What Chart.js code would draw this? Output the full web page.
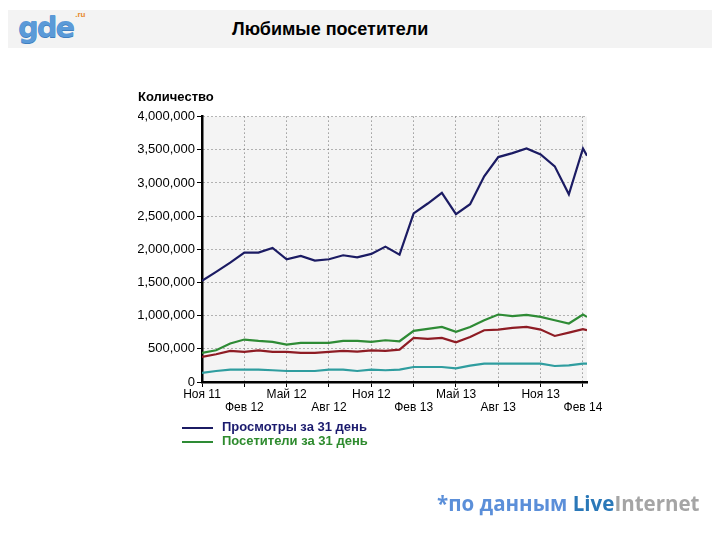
<!DOCTYPE html>
<html>
<head>
<meta charset="utf-8">
<script src="https://cdn.jsdelivr.net/npm/chart.js@4/dist/chart.umd.min.js"></script>
<style>
    body { margin: 0; width: 720px; height: 540px; background: #fff; position: relative; overflow: hidden;
           font-family: "Liberation Sans", Arial, sans-serif; }
    #header { position: absolute; left: 8px; top: 10px; width: 704px; height: 38px; background: #f3f3f3; }
    #logo { position: absolute; left: 10px; top: 0px; font: bold 29px "DejaVu Sans", sans-serif;
            color: #5b9ad8; letter-spacing: -2px; text-shadow: 0 1px 0 #3f7fc0; }
    #logo sup { font: bold 8px "Liberation Sans", Arial, sans-serif; color: #e8892c; position: relative; top: -9px;
                letter-spacing: 0; text-shadow: none; margin-left: 2px; }
    #title { position: absolute; left: 224px; top: 9px; font: bold 18px "Liberation Sans", Arial, sans-serif; color: #000; }
    #chart { position: absolute; left: 0; top: 0; }
    #legend { position: absolute; left: 182px; top: 420px; font: bold 13px "Liberation Sans", Arial, sans-serif; }
    .item { height: 14px; line-height: 14px; white-space: nowrap; }
    .item i { display: inline-block; width: 31px; height: 2px; vertical-align: middle; margin-right: 9px; }
    #source { position: absolute; left: 437px; top: 489px; font: bold 20.5px "Open Sans", "DejaVu Sans", sans-serif;
              white-space: nowrap; }
</style>
</head>
<body>
<div id="header">
    <div id="logo">gde<sup>.ru</sup></div>
    <div id="title">Любимые посетители</div>
</div>
<canvas id="chart" width="720" height="540"></canvas>
<div id="legend"></div>
<div id="source"><span style="color:#5b8fd9">*по данным </span><span style="color:#2a78b8">Live</span><span style="color:#a5a5a5">Internet</span></div>

<script>
// ── Data ─────────────────────────────────────────────────
const pointDates = [
    '2011-11-01','2011-12-01','2012-01-01','2012-02-01','2012-03-01','2012-04-01',
    '2012-05-01','2012-06-01','2012-07-01','2012-08-01','2012-09-01','2012-10-01',
    '2012-11-01','2012-12-01','2013-01-01','2013-02-01','2013-03-01','2013-04-01',
    '2013-05-01','2013-06-01','2013-07-01','2013-08-01','2013-09-01','2013-10-01',
    '2013-11-01','2013-12-01','2014-01-01','2014-02-01','2014-02-09'
];
const tickDates  = ['2011-11-01','2012-02-01','2012-05-01','2012-08-01','2012-11-01',
                    '2013-02-01','2013-05-01','2013-08-01','2013-11-01','2014-02-01'];
const tickLabels = ['Ноя 11','Фев 12','Май 12','Авг 12','Ноя 12',
                    'Фев 13','Май 13','Авг 13','Ноя 13','Фев 14'];

// thousands
const views    = [1525,1660,1800,1950,1950,2020,1850,1900,1830,1850,1910,1880,1930,2040,1920,
                  2540,2690,2850,2530,2680,3100,3390,3450,3520,3430,3250,2830,3520,3410];
const visitors = [438,478,580,640,619,604,564,589,589,589,619,619,604,629,614,
                  770,800,830,755,830,931,1017,992,1011,981,931,881,1017,981];
const redLine  = [377,418,468,453,478,453,453,438,438,453,468,458,478,468,488,
                  664,649,664,598,679,780,790,815,830,790,694,745,795,780];
const tealLine = [136,166,187,187,187,177,166,166,166,187,187,166,187,177,187,
                  226,226,226,206,247,277,277,277,277,277,241,252,277,277];

const seriesNames  = ['Просмотры за 31 день', 'Посетители за 31 день', '', ''];
const seriesColors = ['#1b1b63', '#2e8b35', '#8e1c24', '#2f9d9f'];
const legendColors = ['#1b1b6e', '#2e8b2e'];

// months since Ноя 11
function monthOffset(d) {
    const [y, m, day] = d.split('-').map(Number);
    const dim = new Date(y, m, 0).getDate();
    return (y - 2011) * 12 + (m - 11) + (day - 1) / dim;
}
const xs = pointDates.map(monthOffset);
const tickValues = tickDates.map(monthOffset);

const toPoints = arr => arr.map((v, i) => ({ x: xs[i], y: v * 1000 }));

// ── Legend (HTML) ────────────────────────────────────────
document.getElementById('legend').innerHTML = [0, 1].map(i =>
    `<div class="item" style="color:${legendColors[i]}"><i style="background:${seriesColors[i]}"></i>${seriesNames[i]}</div>`
).join('');

// ── Chart ────────────────────────────────────────────────
const plotBg = {
    id: 'plotBg',
    beforeDraw(chart) {
        const { ctx, chartArea: a } = chart;
        ctx.save();
        ctx.fillStyle = '#f4f4f4';
        ctx.fillRect(a.left, a.top, a.right - a.left, a.bottom - a.top);
        ctx.restore();
    }
};

const font = { family: '"Liberation Sans", Arial, sans-serif', size: 13 };
const gridOpts = { color: '#6e6e6e', tickColor: '#000', tickLength: 5, tickWidth: 1, tickBorderDash: [] };
const borderOpts = { color: '#000', width: 2.5, dash: [1, 3] };

new Chart(document.getElementById('chart'), {
    type: 'line',
    data: {
        datasets: [views, visitors, redLine, tealLine].map((arr, i) => ({
            label: seriesNames[i],
            data: toPoints(arr),
            borderColor: seriesColors[i],
            borderWidth: 2.2,
            pointRadius: 0,
            tension: 0,
            fill: false,
        })),
    },
    options: {
        responsive: false,
        animation: false,
        layout: { padding: { left: 138, top: 90, right: 133, bottom: 118 } },
        plugins: {
            legend: { display: false },
            tooltip: { enabled: false },
            title: {
                display: true, text: 'Количество', align: 'start', color: '#000',
                font: { ...font, weight: 'bold' }, padding: { top: 0, bottom: 11 },
            },
        },
        scales: {
            x: {
                type: 'linear',
                min: 0,
                max: xs[xs.length - 1],
                afterBuildTicks: s => { s.ticks = tickValues.map(v => ({ value: v })); },
                afterFit: s => { s.height = 40; },
                ticks: {
                    autoSkip: false, maxRotation: 0, padding: 1, color: '#000',
                    font: { ...font, size: 12, lineHeight: 1.1 },
                    callback: (v, i) => i % 2 ? ['', tickLabels[i]] : [tickLabels[i], ''],
                },
                grid: gridOpts,
                border: borderOpts,
            },
            y: {
                min: 0,
                max: 4000000,
                afterFit: s => { s.width = 64; },
                ticks: {
                    stepSize: 500000, padding: 2, color: '#000', font,
                    callback: v => v.toLocaleString('en-US'),
                },
                grid: gridOpts,
                border: borderOpts,
            },
        },
    },
    plugins: [plotBg],
});
</script>
</body>
</html>
